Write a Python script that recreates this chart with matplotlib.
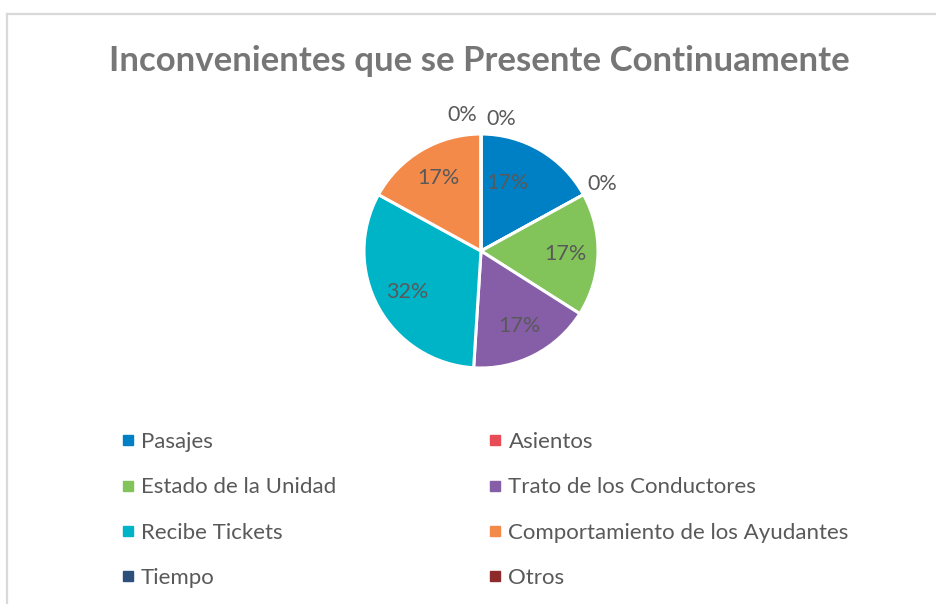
import matplotlib.pyplot as plt
from matplotlib.lines import Line2D
import numpy as np

plt.rcParams['font.family'] = ['Lato', 'DejaVu Sans']

# Data
title = "Inconvenientes que se Presente Continuamente"
categories = ["Pasajes", "Asientos", "Estado de la Unidad", "Trato de los Conductores",
              "Recibe Tickets", "Comportamiento de los Ayudantes", "Tiempo", "Otros"]
values = [17, 0, 17, 17, 32, 17, 0, 0]
colors = ["#0080C4", "#E84C55", "#82C45A", "#865EA8",
          "#00B4C8", "#F48A4A", "#2C4F7C", "#8E2A2A"]

W, H, DPI = 937, 604, 100
fig = plt.figure(figsize=(W / DPI, H / DPI), dpi=DPI)
fig.patch.set_facecolor("white")

# Chart frame (top and left edges visible)
frame_color = "#D9D9D9"
fig.add_artist(Line2D([7 / W, 1.0], [1 - 13.5 / H, 1 - 13.5 / H], color=frame_color, lw=1.6,
                      transform=fig.transFigure))
fig.add_artist(Line2D([7 / W, 7 / W], [0, 1 - 13.5 / H], color=frame_color, lw=1.6,
                      transform=fig.transFigure))

fig.text(479 / W, 1 - 61 / H, title, ha="center", va="center", fontsize=25,
         fontweight="bold", color="#767676")

# Pie
cx, cy, r = 481, 251, 117
ax = fig.add_axes([(cx - r) / W, 1 - (cy + r) / H, 2 * r / W, 2 * r / H])
wedges, texts, autotexts = ax.pie(
    values, colors=colors, startangle=90, counterclock=False,
    autopct=lambda p: f"{p:.0f}%", pctdistance=0.72,
    wedgeprops=dict(edgecolor="white", linewidth=2.2),
    textprops=dict(fontsize=15.5, color="#595959"))
ax.set_xlim(-1, 1)
ax.set_ylim(-1, 1)
ax.set_aspect("auto")

# Zero-valued slices get their labels outside the pie
total = sum(values)
cum = np.cumsum([0] + values[:-1])
zero_idx = [i for i, v in enumerate(values) if v == 0]
top_zero = [i for i in zero_idx if (cum[i] % total) == 0 or cum[i] == total]
for i in zero_idx:
    ang = np.deg2rad(90 - 360 * cum[i] / total)
    dist = 1.18
    x, y = dist * np.cos(ang), dist * np.sin(ang)
    if i in top_zero:
        k = top_zero.index(i)
        x = (-0.16 if k == 0 else 0.17)
        y = 1.16 if k == 0 else 1.13
    autotexts[i].set_position((x, y))
    autotexts[i].set_ha("center")

# Pasajes label sits slightly closer to the vertical edge
autotexts[0].set_position((0.23, 0.58))

# Legend: row-wise ordering in two columns
order = [0, 2, 4, 6, 1, 3, 5, 7]
handles = [Line2D([], [], marker="s", linestyle="none", markersize=6.5,
                  markerfacecolor=colors[i], markeredgecolor=colors[i]) for i in order]
labels = [categories[i] for i in order]
leg = fig.legend(handles, labels, ncol=2, loc="upper left",
                 bbox_to_anchor=(121 / W, 1 - 432 / H), frameon=False,
                 fontsize=16, labelcolor="#595959", handlelength=0.6,
                 handletextpad=0.3, columnspacing=6.85, labelspacing=1.14,
                 borderaxespad=0, borderpad=0)

fig.savefig("out.png", dpi=DPI, facecolor="white")
